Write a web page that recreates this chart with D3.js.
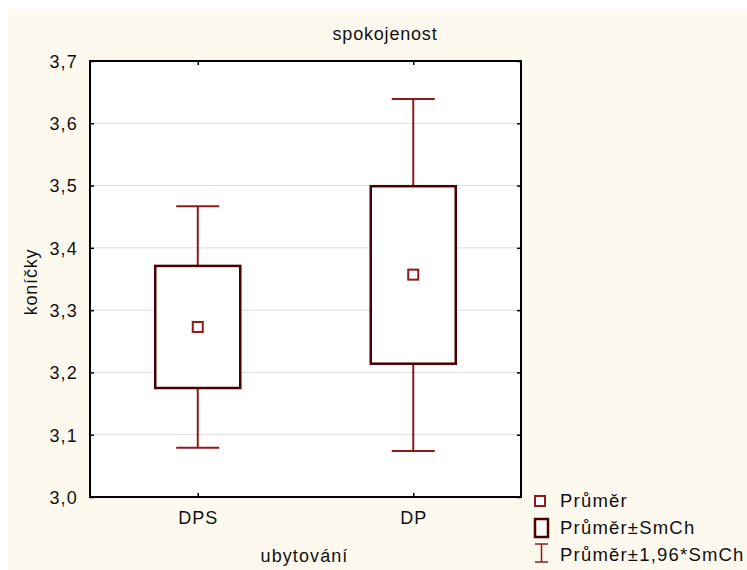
<!DOCTYPE html>
<html>
<head>
<meta charset="utf-8">
<script src="https://cdn.jsdelivr.net/npm/d3@7"></script>
<style>
  html, body { margin: 0; padding: 0; background: #ffffff; }
  svg { display: block; }
  text { font-family: "Liberation Sans", Arial, sans-serif; fill: #111; }
</style>
</head>
<body>
<div id="chart"></div>
<script>
// ---- data ----
const categories = ["DPS", "DP"];
const means = [3.273, 3.357];
const seLow = [3.175, 3.214];
const seHigh = [3.371, 3.499];
const ciLow = [3.079, 3.074];
const ciHigh = [3.467, 3.639];
const yTicks = [3.0, 3.1, 3.2, 3.3, 3.4, 3.5, 3.6, 3.7];
const legendLabels = ["Průměr", "Průměr±SmCh", "Průměr±1,96*SmCh"];
const title = "spokojenost";
const xTitle = "ubytování";
const yTitle = "koníčky";

// ---- layout ----
const W = 747, H = 570;
const plot = { left: 90, top: 61, right: 521, bottom: 497 };
const boxColor = "#4a0000";
const whiskColor = "#8e1a1a";
const meanColor = "#8e1a1a";

const svg = d3.select("#chart").append("svg").attr("width", W).attr("height", H);
svg.append("rect").attr("x", 0).attr("y", 0).attr("width", W).attr("height", H).attr("fill", "#ffffff");
svg.append("rect").attr("x", 8).attr("y", 9).attr("width", W - 8).attr("height", H - 9).attr("fill", "#fdf9ef");
svg.append("rect").attr("x", plot.left).attr("y", plot.top)
  .attr("width", plot.right - plot.left).attr("height", plot.bottom - plot.top).attr("fill", "#ffffff");

const y = d3.scaleLinear().domain([3.0, 3.7]).range([plot.bottom, plot.top]);
const x = d3.scalePoint().domain(categories).range([plot.left, plot.right]).padding(0.5);

const fmt = d => d.toFixed(1).replace(".", ",");

// gridlines
svg.append("g").selectAll("line").data(yTicks.filter(t => t > 3.0 && t < 3.7)).join("line")
  .attr("x1", plot.left).attr("x2", plot.right)
  .attr("y1", d => y(d)).attr("y2", d => y(d))
  .attr("stroke", "#dcdcdc").attr("stroke-width", 1);

// axes (inward ticks on all sides)
const axL = svg.append("g").attr("transform", `translate(${plot.left},0)`)
  .call(d3.axisLeft(y).tickValues(yTicks).tickFormat(fmt).tickSize(-4).tickPadding(12));
const axR = svg.append("g").attr("transform", `translate(${plot.right},0)`)
  .call(d3.axisRight(y).tickValues(yTicks).tickFormat("").tickSize(-4));
const axB = svg.append("g").attr("transform", `translate(0,${plot.bottom})`)
  .call(d3.axisBottom(x).tickSize(-4).tickPadding(14));
const axT = svg.append("g").attr("transform", `translate(0,${plot.top})`)
  .call(d3.axisTop(x).tickFormat("").tickSize(-4));
[axL, axR, axB, axT].forEach(a => {
  a.select(".domain").remove();
  a.selectAll(".tick line").attr("stroke", "#000").attr("stroke-width", 1.5);
});
axL.selectAll(".tick text").attr("font-size", 18).attr("letter-spacing", 1.2).attr("fill", "#111")
  .attr("font-family", "Liberation Sans, Arial, sans-serif").attr("dy", "0.35em");
axB.selectAll(".tick text").attr("font-size", 18).attr("letter-spacing", 1).attr("fill", "#111")
  .attr("font-family", "Liberation Sans, Arial, sans-serif");

// frame
svg.append("rect").attr("x", plot.left).attr("y", plot.top)
  .attr("width", plot.right - plot.left).attr("height", plot.bottom - plot.top)
  .attr("fill", "none").attr("stroke", "#000").attr("stroke-width", 2);

// whiskers
const capHalf = 21.5, boxHalf = 42.5, meanHalf = 5;
const g = svg.append("g");
categories.forEach((c, i) => {
  const cx = x(c);
  g.append("line").attr("x1", cx).attr("x2", cx).attr("y1", y(ciHigh[i])).attr("y2", y(seHigh[i]))
    .attr("stroke", whiskColor).attr("stroke-width", 2);
  g.append("line").attr("x1", cx).attr("x2", cx).attr("y1", y(seLow[i])).attr("y2", y(ciLow[i]))
    .attr("stroke", whiskColor).attr("stroke-width", 2);
  g.append("line").attr("x1", cx - capHalf).attr("x2", cx + capHalf).attr("y1", y(ciHigh[i])).attr("y2", y(ciHigh[i]))
    .attr("stroke", whiskColor).attr("stroke-width", 2);
  g.append("line").attr("x1", cx - capHalf).attr("x2", cx + capHalf).attr("y1", y(ciLow[i])).attr("y2", y(ciLow[i]))
    .attr("stroke", whiskColor).attr("stroke-width", 2);
  g.append("rect").attr("x", cx - boxHalf).attr("y", y(seHigh[i]))
    .attr("width", boxHalf * 2).attr("height", y(seLow[i]) - y(seHigh[i]))
    .attr("fill", "#ffffff").attr("stroke", boxColor).attr("stroke-width", 2.5);
  g.append("rect").attr("x", cx - meanHalf).attr("y", y(means[i]) - meanHalf)
    .attr("width", meanHalf * 2).attr("height", meanHalf * 2)
    .attr("fill", "#ffffff").attr("stroke", meanColor).attr("stroke-width", 2);
});

// titles
svg.append("text").attr("x", 385).attr("y", 40).attr("text-anchor", "middle")
  .attr("font-size", 18).attr("letter-spacing", 0.8).text(title);
svg.append("text").attr("x", (plot.left + plot.right) / 2 - 1).attr("y", 562).attr("text-anchor", "middle")
  .attr("font-size", 18).attr("letter-spacing", 1.1).text(xTitle);
svg.append("text").attr("transform", `translate(37,${(plot.top + plot.bottom) / 2 + 3}) rotate(-90)`)
  .attr("text-anchor", "middle").attr("font-size", 18).attr("letter-spacing", 0.8).text(yTitle);

// legend
const lg = svg.append("g");
const rowsY = [507, 534, 561];
lg.append("rect").attr("x", 535).attr("y", 496).attr("width", 10).attr("height", 10)
  .attr("fill", "#fff").attr("stroke", meanColor).attr("stroke-width", 2);
lg.append("rect").attr("x", 535).attr("y", 519).attr("width", 13).attr("height", 18)
  .attr("fill", "#fff").attr("stroke", boxColor).attr("stroke-width", 2.5);
lg.append("line").attr("x1", 541.5).attr("x2", 541.5).attr("y1", 544).attr("y2", 562)
  .attr("stroke", whiskColor).attr("stroke-width", 1.5);
lg.append("line").attr("x1", 535).attr("x2", 548).attr("y1", 544).attr("y2", 544)
  .attr("stroke", whiskColor).attr("stroke-width", 1.5);
lg.append("line").attr("x1", 535).attr("x2", 548).attr("y1", 562).attr("y2", 562)
  .attr("stroke", whiskColor).attr("stroke-width", 1.5);
lg.selectAll("text").data(legendLabels).join("text")
  .attr("x", 560).attr("y", (d, i) => rowsY[i])
  .attr("font-size", 18.5).attr("letter-spacing", 1.2).text(d => d);
</script>
</body>
</html>
